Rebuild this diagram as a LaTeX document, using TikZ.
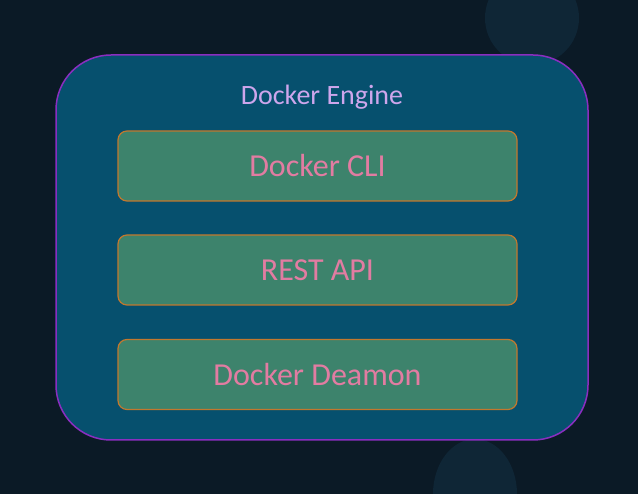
\documentclass[tikz,border=0pt]{standalone}
\usepackage{fontspec}
\setmainfont{Carlito}
\usepackage{tikz}
\usetikzlibrary{positioning}
\usepackage{xcolor}
\definecolor{bgdark}{HTML}{0B1A26}
\definecolor{bgcirc}{HTML}{0F2636}
\definecolor{engfill}{HTML}{06506E}
\definecolor{engline}{HTML}{8A2EC0}
\definecolor{partfill}{HTML}{3D836C}
\definecolor{partline}{HTML}{C2782E}
\definecolor{parttext}{HTML}{E27CA2}
\definecolor{titletext}{HTML}{CDA6EC}
\tikzset{part/.style={draw=partline, line width=1.2pt, fill=partfill, rounded corners=9pt,
  minimum width=399pt, minimum height=70pt, text=parttext, font=\fontsize{32}{34}\selectfont}}

\begin{document}
\begin{tikzpicture}[x=1pt,y=-1pt]
\useasboundingbox (0,0) rectangle (638,494);
\fill[bgdark] (0,0) rectangle (638,494);
\fill[bgcirc] (532,18) circle(47);
\fill[bgcirc] (475,494) ellipse(42 and 55);
\draw[engline, line width=1.5pt, fill=engfill, rounded corners=55pt] (56,55) rectangle (588,440);
\node[text=titletext, font=\fontsize{28}{30}\selectfont] (engine) at (322,97) {Docker Engine};
\node[part] (cli) at (317.5,166) {Docker CLI};
\node[part] (rest) at (317.5,270) {REST API};
\node[part] (daemon) at (317.5,374.5) {Docker Deamon};
\end{tikzpicture}
\end{document}
